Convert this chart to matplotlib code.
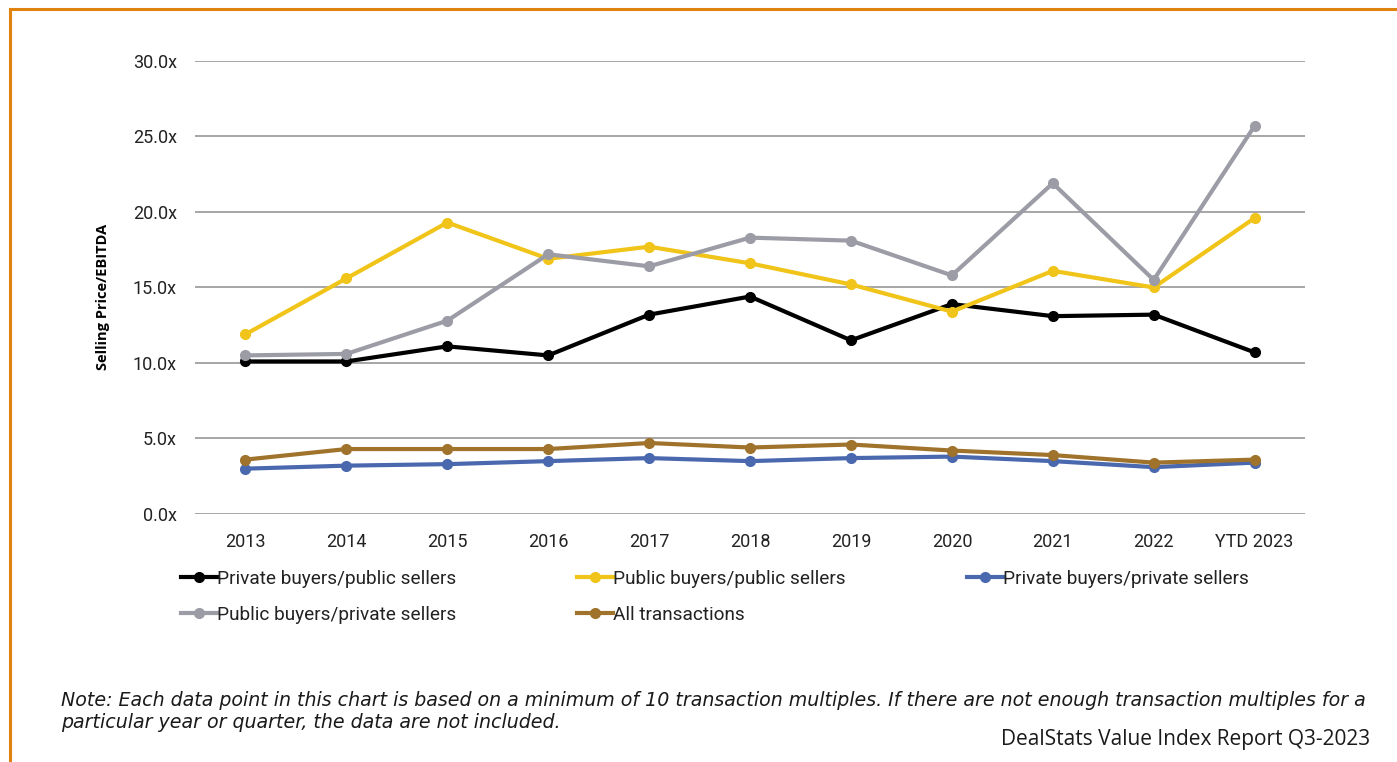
import matplotlib.pyplot as plt
from matplotlib.lines import Line2D

# data
years = ['2013', '2014', '2015', '2016', '2017', '2018', '2019', '2020', '2021', '2022', 'YTD 2023']
priv_pub = [10.1, 10.1, 11.1, 10.5, 13.2, 14.4, 11.5, 13.9, 13.1, 13.2, 10.7]
pub_pub = [11.9, 15.6, 19.3, 16.9, 17.7, 16.6, 15.2, 13.4, 16.1, 15.0, 19.6]
priv_priv = [3.0, 3.2, 3.3, 3.5, 3.7, 3.5, 3.7, 3.8, 3.5, 3.1, 3.4]
pub_priv = [10.5, 10.6, 12.8, 17.2, 16.4, 18.3, 18.1, 15.8, 21.9, 15.5, 25.7]
all_tx = [3.6, 4.3, 4.3, 4.3, 4.7, 4.4, 4.6, 4.2, 3.9, 3.4, 3.6]

series = [
    ('Private buyers/public sellers', priv_pub, '#000000'),
    ('Public buyers/private sellers', pub_priv, '#9C9CA6'),
    ('Public buyers/public sellers', pub_pub, '#F0C419'),
    ('All transactions', all_tx, '#A0732C'),
    ('Private buyers/private sellers', priv_priv, '#4A68AE'),
]
draw_order = [0, 2, 4, 1, 3]

fig = plt.figure(figsize=(13.97, 7.62), dpi=100)
ax = fig.add_axes([0.1396, 0.3255, 0.7946, 0.5945])

x = list(range(len(years)))
handles = {}
for i in draw_order:
    name, vals, col = series[i]
    h, = ax.plot(x, vals, color=col, lw=3, marker='o', ms=7, label=name, zorder=3)
    handles[i] = h

ax.set_xlim(-0.5, len(years) - 0.5)
ax.set_ylim(0, 30)
ax.set_yticks([0, 5, 10, 15, 20, 25, 30])
ax.set_yticklabels(['0.0x', '5.0x', '10.0x', '15.0x', '20.0x', '25.0x', '30.0x'])
ax.set_xticks(x)
ax.set_xticklabels(years)
ax.tick_params(length=0, labelsize=13, colors='#222222')
ax.tick_params(axis='x', pad=14)
ax.tick_params(axis='y', pad=13)
for lab in ax.get_xticklabels() + ax.get_yticklabels():
    lab.set_fontfamily('Roboto')
ax.grid(axis='y', color='#A6A6A6', lw=1.4)
ax.set_axisbelow(True)
for s in ax.spines.values():
    s.set_visible(False)
ax.set_ylabel('Selling Price/EBITDA', fontsize=10.5, fontweight='bold', family='Open Sans')
ax.yaxis.set_label_coords(-0.077, 0.48)

leg = fig.legend([handles[i] for i in range(5)], [series[i][0] for i in range(5)],
                 loc='upper left', bbox_to_anchor=(0.124, 0.262), ncol=3, frameon=False,
                 handlelength=1.9, handletextpad=0.0, columnspacing=6.35, labelspacing=0.95,
                 borderaxespad=0, prop={'family': 'Roboto', 'size': 13.7})
for t in leg.get_texts():
    t.set_color('#222222')

fig.text(0.044, 0.04, 'Note: Each data point in this chart is based on a minimum of 10 transaction multiples. '
         'If there are not enough transaction multiples for a\nparticular year or quarter, the data are not included.',
         fontsize=13.7, style='italic', family='DejaVu Sans', color='#1a1a1a', va='bottom', linespacing=1.2)
fig.text(0.981, 0.016, 'DealStats Value Index Report Q3-2023', fontsize=15, family='Open Sans',
         color='#1a1a1a', ha='right', va='bottom')

# orange frame (top and left edge)
fig.add_artist(Line2D([0.0072, 1.0], [0.9885, 0.9885], color='#E0820F', lw=2.2))
fig.add_artist(Line2D([0.0072, 0.0072], [0.0, 0.9885], color='#E0820F', lw=2.2))

fig.savefig('out.png', dpi=100)
